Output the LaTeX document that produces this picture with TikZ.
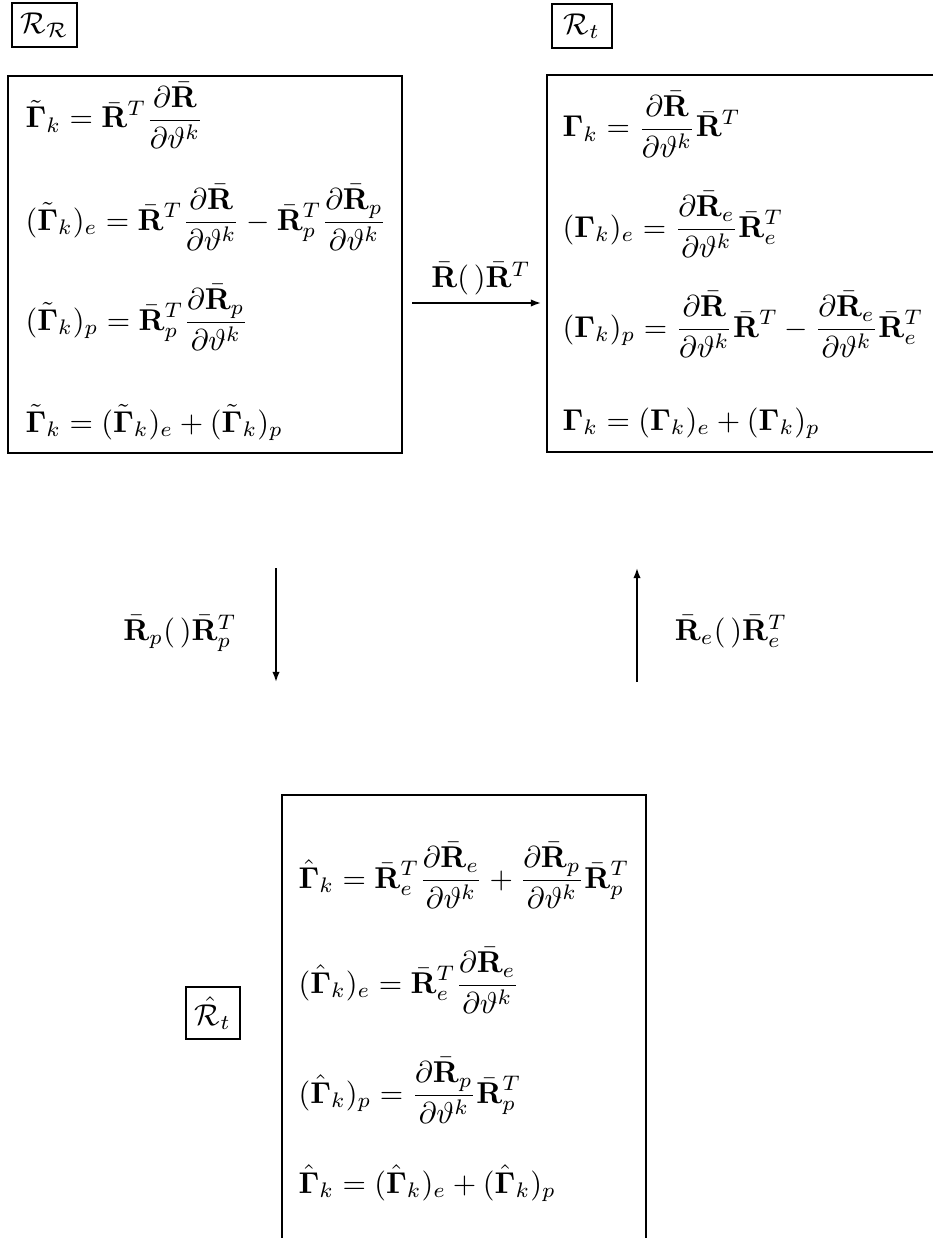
\documentclass[tikz,border=0pt]{standalone}
\usepackage{amsmath,bm}
\usetikzlibrary{arrows.meta}
\newcommand{\Rb}{\bar{\mathbf R}}
\newcommand{\dth}{\partial\vartheta^k}
\begin{document}
\begin{tikzpicture}[x=0.3324pt,y=-0.3324pt,
  boxline/.style={line width=0.8pt},
  eq/.style={anchor=base west, inner sep=0pt},
  lab/.style={draw, line width=0.8pt, inner sep=0pt},
  conn/.style={-{Latex[length=3.4pt,width=2.5pt]}, line width=0.6pt},
  arrlab/.style={anchor=base, inner sep=0pt}]
\useasboundingbox (0,0) rectangle (933,1238);
% frame labels
\node[lab, minimum width=21.6pt, minimum height=14.6pt] (RR) at (44.5,25) {$\mathcal{R}_{\mathcal{R}}$};
\node[lab, minimum width=19.9pt, minimum height=14.6pt] (Rt) at (582,26) {$\mathcal{R}_t$};
\node[lab, minimum width=17.9pt, minimum height=17.3pt] (Rh) at (213,1013) {$\hat{\mathcal{R}}_t$};
% left box
\node[draw, boxline, minimum width=131pt, minimum height=125.3pt, inner sep=0pt] (boxL) at (205,264.5) {};
\node[eq] (l1) at (25,128) {$\displaystyle \tilde{\bm\Gamma}_k=\Rb^T\frac{\partial\Rb}{\dth}$};
\node[eq] (l2) at (25,230) {$\displaystyle (\tilde{\bm\Gamma}_k)_e=\Rb^T\frac{\partial\Rb}{\dth}-\Rb_p^T\frac{\partial\Rb_p}{\dth}$};
\node[eq] (l3) at (25,330) {$\displaystyle (\tilde{\bm\Gamma}_k)_p=\Rb_p^T\frac{\partial\Rb_p}{\dth}$};
\node[eq] (l4) at (25,432) {$\displaystyle \tilde{\bm\Gamma}_k=(\tilde{\bm\Gamma}_k)_e+(\tilde{\bm\Gamma}_k)_p$};
% right box (open on the right)
\draw[boxline] (933,75) -- (547,75) -- (547,452) -- (933,452);
\node[eq] (r1) at (562,137) {$\displaystyle \bm\Gamma_k=\frac{\partial\Rb}{\dth}\Rb^T$};
\node[eq] (r2) at (562,237) {$\displaystyle (\bm\Gamma_k)_e=\frac{\partial\Rb_e}{\dth}\Rb_e^T$};
\node[eq] (r3) at (562,337) {$\displaystyle (\bm\Gamma_k)_p=\frac{\partial\Rb}{\dth}\Rb^T-\frac{\partial\Rb_e}{\dth}\Rb_e^T$};
\node[eq] (r4) at (562,430) {$\displaystyle \bm\Gamma_k=(\bm\Gamma_k)_e+(\bm\Gamma_k)_p$};
% bottom box (open at the bottom)
\draw[boxline] (282,1238) -- (282,795) -- (646,795) -- (646,1238);
\node[eq] (b1) at (298,888) {$\displaystyle \hat{\bm\Gamma}_k=\Rb_e^T\frac{\partial\Rb_e}{\dth}+\frac{\partial\Rb_p}{\dth}\Rb_p^T$};
\node[eq] (b2) at (298,993) {$\displaystyle (\hat{\bm\Gamma}_k)_e=\Rb_e^T\frac{\partial\Rb_e}{\dth}$};
\node[eq] (b3) at (298,1103) {$\displaystyle (\hat{\bm\Gamma}_k)_p=\frac{\partial\Rb_p}{\dth}\Rb_p^T$};
\node[eq] (b4) at (298,1193) {$\displaystyle \hat{\bm\Gamma}_k=(\hat{\bm\Gamma}_k)_e+(\hat{\bm\Gamma}_k)_p$};
% connectors
\coordinate (hA) at (412,303);
\coordinate (hB) at (541,303);
\coordinate (pA) at (276,568);
\coordinate (pB) at (276,682);
\coordinate (eA) at (637,682);
\coordinate (eB) at (637,568);
\draw[conn] (hA) -- (hB);
\draw[conn] (pA) -- (pB);
\draw[conn] (eA) -- (eB);
\node[arrlab] (hL) at (481,287) {$\Rb(\,)\Rb^T$};
\node[arrlab] (pL) at (180,640) {$\Rb_p(\,)\Rb_p^T$};
\node[arrlab] (eL) at (731,640) {$\Rb_e(\,)\Rb_e^T$};
\end{tikzpicture}
\end{document}
